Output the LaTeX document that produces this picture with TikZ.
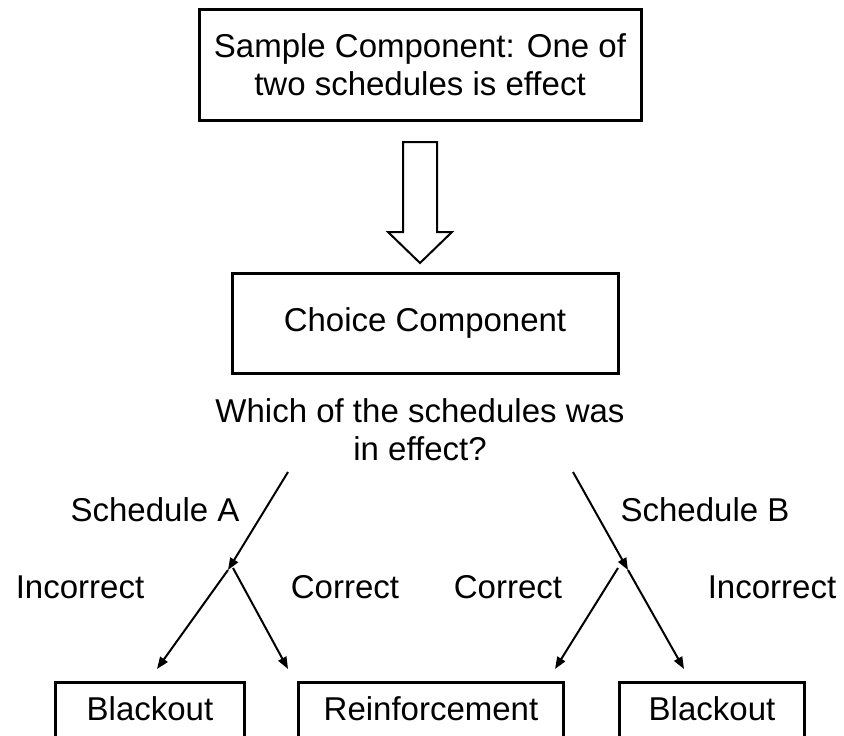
\documentclass[tikz,border=0pt]{standalone}
\usepackage{fontspec}
\setmainfont{Liberation Sans}
\usetikzlibrary{arrows.meta}

\begin{document}
\begin{tikzpicture}[x=1pt, y=-1pt, line width=2pt,
    font=\fontsize{33}{38}\selectfont,
    box/.style={draw, line width=3pt, align=center},
    endbox/.style={box, anchor=north, inner ysep=0pt, text height=38pt, text depth=40pt},
    arr/.style={-{Triangle[length=12pt,width=9pt]}}]
            \clip (0,0) rectangle (844,736);

            \node[box, minimum width=442pt, minimum height=111pt] (sample) at (420,64.5) {Sample Component: One of\\two schedules is effect};
            \node[box, minimum width=386pt, minimum height=100pt] (choice) at (425,323) {Choice Component};
            \node[align=center] (question) at (420,430) {Which of the schedules was\\in effect?};

            % hollow arrow
            \draw (403,142) -- (437,142) -- (437,232) -- (452,232) -- (420,263)
                  -- (388,232) -- (403,232) -- cycle;

            \node (schA) at (155,510) {Schedule A};
            \node (schB) at (705,510) {Schedule B};
            \node (incA) at (80,587) {Incorrect};
            \node (corA) at (345,587) {Correct};
            \node (corB) at (508,587) {Correct};
            \node (incB) at (772,587) {Incorrect};

            \node[endbox, minimum width=189pt] (blackA) at (150,681) {Blackout};
            \node[endbox, minimum width=265pt] (reinf) at (431,681) {Reinforcement};
            \node[endbox, minimum width=185pt] (blackB) at (712,681) {Blackout};

            \coordinate (qA) at (288,472);
            \coordinate (qB) at (573,472);
            \coordinate (splitA) at (228,570);
            \coordinate (splitB) at (628,570);
            \coordinate (inA) at (157,669);
            \coordinate (coA) at (288,669);
            \coordinate (coB) at (555,669);
            \coordinate (inB) at (684,669);

            \draw[arr] (qA) -- (splitA);
            \draw[arr] (qB) -- (splitB);
            \draw[arr] (splitA) -- (inA);
            \draw[arr] ([xshift=5pt,yshift=2pt]splitA) -- (coA);
            \draw[arr] ([xshift=-10pt,yshift=2pt]splitB) -- (coB);
            \draw[arr] (splitB) -- (inB);
\end{tikzpicture}
\end{document}
